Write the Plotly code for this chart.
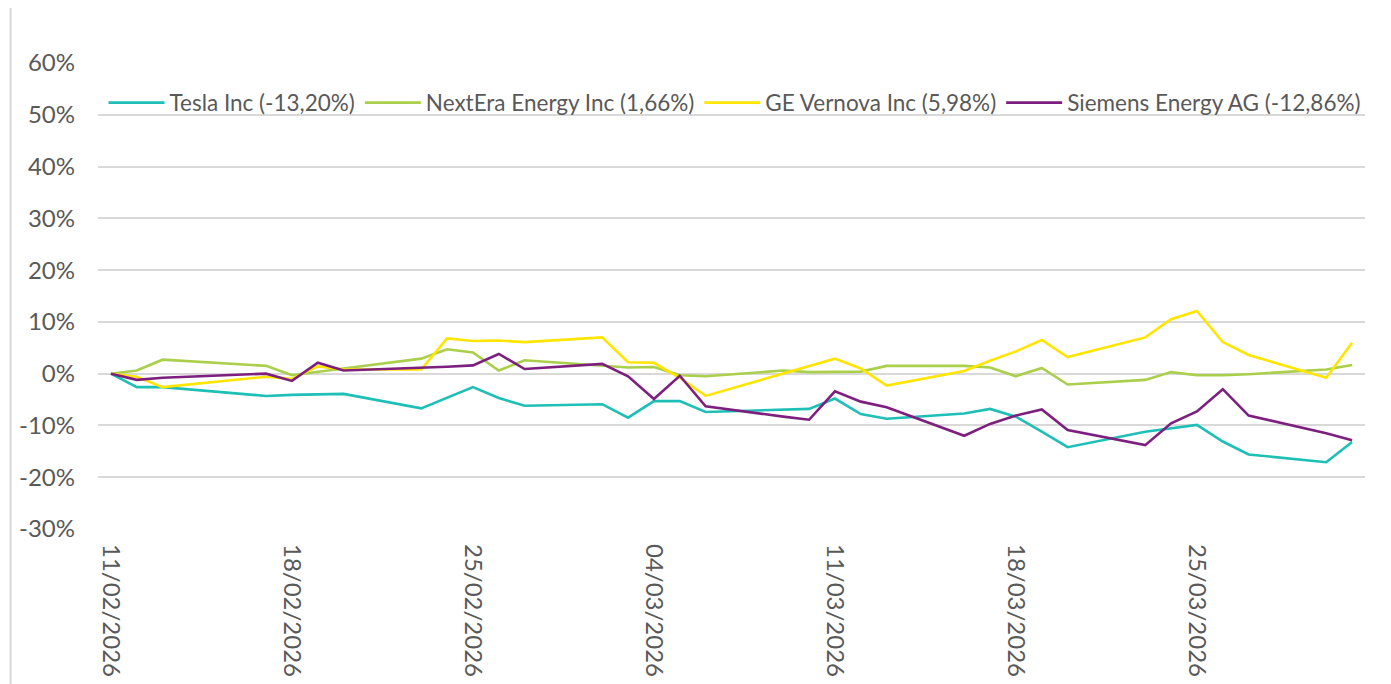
import plotly.graph_objects as go

dates = [
    "2026-02-11", "2026-02-12", "2026-02-13", "2026-02-17", "2026-02-18", "2026-02-19", "2026-02-20",
    "2026-02-23", "2026-02-24", "2026-02-25", "2026-02-26", "2026-02-27",
    "2026-03-02", "2026-03-03", "2026-03-04", "2026-03-05", "2026-03-06",
    "2026-03-09", "2026-03-10", "2026-03-11", "2026-03-12", "2026-03-13",
    "2026-03-16", "2026-03-17", "2026-03-18", "2026-03-19", "2026-03-20",
    "2026-03-23", "2026-03-24", "2026-03-25", "2026-03-26", "2026-03-27",
    "2026-03-30", "2026-03-31",
]

tesla = [0, -2.6, -2.6, -4.3, -4.1, -4.0, -3.9,
         -6.7, -4.6, -2.6, -4.7, -6.2,
         -5.9, -8.5, -5.3, -5.3, -7.4,
         -7.0, -6.8, -4.8, -7.8, -8.7,
         -7.7, -6.8, -8.3, -11.2, -14.2,
         -11.2, -10.5, -9.9, -13.1, -15.6,
         -17.1, -13.2]

nextera = [0, 0.6, 2.7, 1.5, -0.3, 0.4, 1.0,
           2.9, 4.7, 4.1, 0.6, 2.6,
           1.5, 1.2, 1.3, -0.3, -0.5,
           0.6, 0.3, 0.3, 0.4, 1.5,
           1.5, 1.2, -0.5, 1.1, -2.1,
           -1.2, 0.3, -0.3, -0.3, -0.1,
           0.8, 1.66]

gevernova = [0, -0.6, -2.6, -0.6, -1.0, 1.4, 0.8,
             0.8, 6.8, 6.3, 6.4, 6.1,
             7.0, 2.2, 2.1, -0.8, -4.3,
             0.1, 1.5, 2.9, 1.0, -2.3,
             0.5, 2.5, 4.3, 6.5, 3.2,
             7.0, 10.5, 12.1, 6.1, 3.6,
             -0.8, 5.98]

siemens = [0, -1.2, -0.8, 0.0, -1.4, 2.1, 0.6,
           1.1, 1.35, 1.6, 3.8, 0.9,
           1.9, -0.5, -4.9, -0.4, -6.3,
           -8.3, -8.9, -3.4, -5.4, -6.5,
           -12.0, -9.7, -8.1, -6.9, -10.9,
           -13.8, -9.6, -7.3, -3.0, -8.1,
           -11.5, -12.86]

series_names = [
    "Tesla Inc (-13,20%)",
    "NextEra Energy Inc (1,66%)",
    "GE Vernova Inc (5,98%)",
    "Siemens Energy AG (-12,86%)",
]
series_values = [tesla, nextera, gevernova, siemens]
series_colors = ["#1DBFB6", "#AACF4A", "#FFE500", "#7D1F7E"]

y_tick_values = [-30, -20, -10, 0, 10, 20, 30, 40, 50, 60]
y_tick_labels = ["-30%", "-20%", "-10%", "0%", "10%", "20%", "30%", "40%", "50%", "60%"]

FONT = "Lato"
TXT = "#595959"

fig = go.Figure()
for name, vals, col in zip(series_names, series_values, series_colors):
    fig.add_trace(go.Scatter(
        x=dates, y=vals, name=name, mode="lines",
        line=dict(color=col, width=2.6),
    ))

# the page body adds an 8px offset; work in screen pixels and subtract it
OFF = 8
W, H = 1391 - OFF, 684 - OFF
left, right, top, bottom = 97.5, 1365.5, 63, 529.5  # plot area in screen px
ml, mr, mt, mb = left - OFF, W - (right - OFF), top - OFF, H - (bottom - OFF)
pw = W - ml - mr
ph = H - mt - mb


def px_x(x):
    return (x - OFF - ml) / pw


def px_y(y):
    return 1 - (y - OFF - mt) / ph


fig.update_layout(
    width=W, height=H,
    margin=dict(l=ml, r=mr, t=mt, b=mb, pad=0, autoexpand=False),
    paper_bgcolor="white", plot_bgcolor="white",
    font=dict(family=FONT, size=22, color=TXT),
    showlegend=True,
    legend=dict(
        orientation="h", x=px_x(103), xanchor="left",
        y=px_y(103), yanchor="middle",
        font=dict(family=FONT, size=22.5, color=TXT),
        bgcolor="rgba(255,255,255,0)", itemwidth=56,
        tracegroupgap=0,
    ),
    xaxis=dict(
        type="date", automargin=False,
        range=["2026-02-10 12:00", "2026-03-31 12:00"],
        tick0="2026-02-11", dtick=7 * 86400000,
        tickformat="%d/%m/%Y", tickangle=90,
        showgrid=False, zeroline=False, showline=False,
        ticks="", ticklabelstandoff=14,
        tickfont=dict(family=FONT, size=24, color=TXT),
    ),
    yaxis=dict(
        range=[-30, 60], automargin=False,
        tickvals=y_tick_values, ticktext=y_tick_labels,
        showgrid=True, gridcolor="#D9D9D9", gridwidth=1.6,
        zeroline=False, showline=False, ticks="",
        ticklabelstandoff=22,
        tickfont=dict(family=FONT, size=24, color=TXT),
    ),
    shapes=[dict(
        type="rect", xref="paper", yref="paper",
        x0=px_x(10), x1=px_x(1385), y0=px_y(720), y1=px_y(7),
        line=dict(color="#D9D9D9", width=2), fillcolor="rgba(0,0,0,0)",
        layer="below",
    )],
)

fig.write_html("out.html")
